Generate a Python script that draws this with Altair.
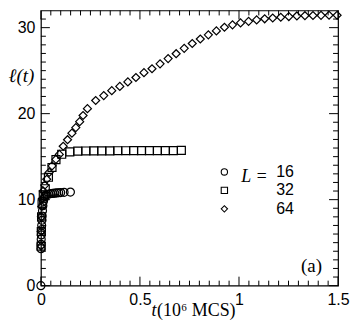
import altair as alt
import pandas as pd

# ---- data ----
t16 = [0, 0.0005, 0.001, 0.0015, 0.002, 0.003, 0.004, 0.005, 0.006, 0.008, 0.01, 0.013, 0.016,
       0.02, 0.025, 0.03, 0.04, 0.05, 0.06, 0.07, 0.08, 0.09, 0.1, 0.117, 0.149]
l16 = [0, 4.3, 4.8, 5.4, 5.9, 6.5, 7.0, 7.6, 8.1, 8.7, 9.3, 9.8, 10.1,
       10.35, 10.5, 10.6, 10.65, 10.7, 10.72, 10.75, 10.78, 10.8, 10.82, 10.85, 10.88]

t32 = [0.001, 0.002, 0.0035, 0.006, 0.012, 0.022, 0.038, 0.056, 0.076, 0.105, 0.146, 0.186,
       0.227, 0.267, 0.307, 0.348, 0.388, 0.428, 0.468, 0.508, 0.548, 0.588, 0.628, 0.669, 0.709]
l32 = [4.6, 6.3, 8.0, 9.5, 10.55, 11.27, 12.6, 13.74, 14.65, 15.28, 15.56, 15.64,
       15.66, 15.67, 15.68, 15.68, 15.69, 15.69, 15.7, 15.7, 15.7, 15.71, 15.71, 15.71, 15.72]

t64 = [0.0005, 0.0015, 0.0024, 0.0049, 0.0073, 0.0122, 0.0196, 0.0294, 0.0416, 0.0563,
       0.0759, 0.093, 0.1126, 0.1346, 0.1566, 0.1762, 0.1958, 0.2129, 0.2349, 0.2766,
       0.3172, 0.3578, 0.3984, 0.439, 0.4797, 0.5203, 0.5609, 0.6015, 0.6422, 0.6828,
       0.7234, 0.7641, 0.8047, 0.8453, 0.8859, 0.9266, 0.9672, 1.0078, 1.0484, 1.0891,
       1.1297, 1.1703, 1.2109, 1.2516, 1.2922, 1.3328, 1.3735, 1.4141, 1.4547, 1.4953]
l64 = [4.6, 6.3, 8.0, 9.2, 10.1, 11.0, 11.69, 12.37, 13.17, 13.93,
       14.69, 15.26, 16.21, 16.97, 17.73, 18.38, 19.07, 19.78, 20.58, 21.53,
       22.10, 22.67, 23.17, 23.69, 24.20, 24.77, 25.22, 25.79, 26.40, 26.97,
       27.59, 28.16, 28.68, 29.16, 29.62, 30.05, 30.33, 30.55, 30.73, 30.90,
       31.03, 31.12, 31.21, 31.29, 31.36, 31.39, 31.41, 31.43, 31.44, 31.44]

series = ["16", "32", "64"]
shapes = ["circle", "square", "diamond"]

x_major = [0, 0.5, 1, 1.5]
x_minor = [0.05, 0.1, 0.15, 0.2, 0.25, 0.3, 0.35, 0.4, 0.45, 0.55, 0.6, 0.65, 0.7, 0.75,
           0.8, 0.85, 0.9, 0.95, 1.05, 1.1, 1.15, 1.2, 1.25, 1.3, 1.35, 1.4, 1.45]
y_major = [0, 10, 20, 30]
y_minor = [1, 2, 3, 4, 5, 6, 7, 8, 9, 11, 12, 13, 14, 15, 16, 17, 18, 19,
           21, 22, 23, 24, 25, 26, 27, 28, 29, 31]

W, H = 298, 276
MAJ, MIN = 9, 5

df = pd.DataFrame({
    "t": t16 + t32 + t64,
    "l": l16 + l32 + l64,
    "L": [series[0]] * len(t16) + [series[1]] * len(t32) + [series[2]] * len(t64),
})

xs = alt.Scale(domain=[0, 1.5], nice=False, zero=False)
ys = alt.Scale(domain=[0, 32], nice=False, zero=False)

SANS = "Liberation Sans"
SERIF = "Liberation Serif"

points = alt.Chart(df).mark_point(filled=False, color="black", strokeWidth=1.2, clip=False,
                                  opacity=1, size=64).encode(
    x=alt.X("t:Q", scale=xs, axis=alt.Axis(
        values=x_major, labelExpr="'' + datum.value", ticks=False, domain=False, grid=False,
        labelFont=SANS, labelFontSize=16, labelColor="black", labelPadding=6, labelFlush=False,
        title=None)),
    y=alt.Y("l:Q", scale=ys, axis=alt.Axis(
        values=y_major, labelExpr="'' + datum.value", ticks=False, domain=False, grid=False,
        labelFont=SANS, labelFontSize=16, labelColor="black", labelPadding=6, labelFlush=False,
        title="ℓ(t)", titleAngle=0, titleX=-20, titleY=65, titleAlign="center",
        titleBaseline="middle", titleFont=SERIF, titleFontStyle="italic", titleFontSize=19,
        titleFontWeight="normal", titleColor="black")),
    shape=alt.Shape("L:N", scale=alt.Scale(domain=series, range=shapes), legend=alt.Legend(
        title=None, orient="none", legendX=176, legendY=154, symbolSize=40,
        symbolStrokeWidth=1.1, symbolStrokeColor="black", symbolFillColor="transparent",
        labelFont=SANS, labelFontSize=16, labelColor="black", labelOffset=44,
        rowPadding=2.5, padding=0)),
)


def tick_layer(vals, axis, side, length):
    d = alt.Chart(pd.DataFrame({"v": vals})).mark_rule(color="black", strokeWidth=1)
    if axis == "x":
        if side == "bottom":
            return d.encode(x=alt.X("v:Q", scale=xs, axis=None), y=alt.value(H), y2=alt.value(H - length))
        return d.encode(x=alt.X("v:Q", scale=xs, axis=None), y=alt.value(0), y2=alt.value(length))
    if side == "left":
        return d.encode(y=alt.Y("v:Q", scale=ys, axis=None), x=alt.value(0), x2=alt.value(length))
    return d.encode(y=alt.Y("v:Q", scale=ys, axis=None), x=alt.value(W), x2=alt.value(W - length))


ticks = [
    tick_layer(x_major, "x", "bottom", MAJ), tick_layer(x_major, "x", "top", MAJ),
    tick_layer(x_minor, "x", "bottom", MIN), tick_layer(x_minor, "x", "top", MIN),
    tick_layer(y_major, "y", "left", MAJ), tick_layer(y_major, "y", "right", MAJ),
    tick_layer(y_minor, "y", "left", MIN), tick_layer(y_minor, "y", "right", MIN),
]


def label(text, x, y, size, align, baseline, style="normal"):
    return alt.Chart(pd.DataFrame({"s": [text]})).mark_text(
        font=SERIF, fontSize=size, fontStyle=style, align=align, baseline=baseline, color="black"
    ).encode(text="s:N", x=alt.value(x), y=alt.value(y))


X0 = 116
texts = [
    label("L =", 201, 167, 18, "left", "middle", "italic"),
    label("(a)", 282, 262, 19, "right", "alphabetic"),
    label("t", X0, H + 30, 18, "right", "alphabetic", "italic"),
    label("(10⁶ MCS)", X0 + 0.5, H + 30, 18, "left", "alphabetic"),
]

chart = alt.layer(*ticks, points, *texts).resolve_axis(
    x="independent", y="independent"
).properties(
    width=W, height=H, padding=0
).configure_view(stroke="black", strokeWidth=1.2)

chart.save("out.html", embed_options={"renderer": "svg", "actions": False})
